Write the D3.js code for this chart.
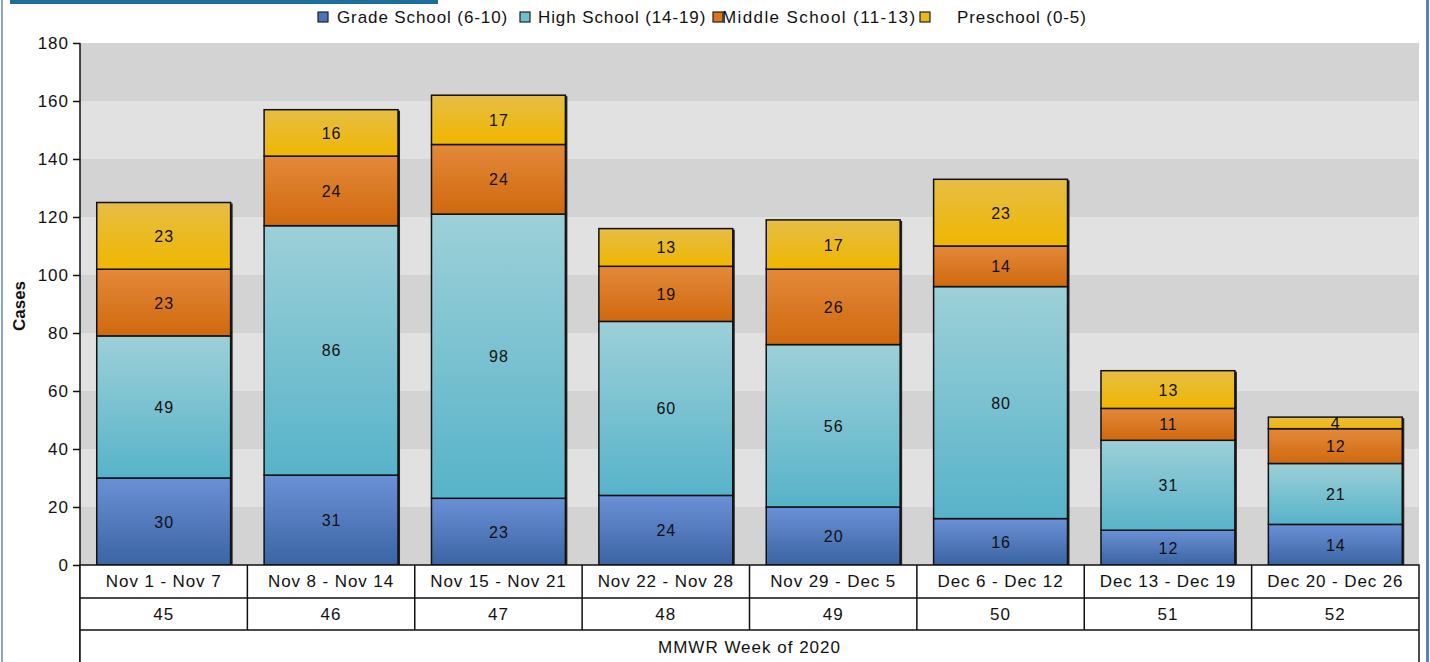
<html>
<head>
<meta charset="utf-8">
<script src="https://cdnjs.cloudflare.com/ajax/libs/d3/7.8.5/d3.min.js"></script>
<style>
  body { margin: 0; background: #fff; }
  text { font-family: "Liberation Sans", Arial, sans-serif; fill: #111; }
</style>
</head>
<body>
<div id="chartContainer"></div>
<script>
"use strict";
// week ranges, MMWR week numbers and the four age groups
var weeks = ["Nov 1  - Nov 7", "Nov 8 - Nov 14", "Nov 15 - Nov 21", "Nov 22 - Nov 28",
             "Nov 29 - Dec 5", "Dec 6 - Dec 12", "Dec 13 - Dec 19", "Dec 20 - Dec 26"];
var weekNums = ["45", "46", "47", "48", "49", "50", "51", "52"];
var groups = ["Grade School (6-10)", "High School (14-19)", "Middle School (11-13)", "Preschool (0-5)"];
var gradeSchool = [30, 31, 23, 24, 20, 16, 12, 14];
var highSchool = [49, 86, 98, 60, 56, 80, 31, 21];
var middleSchool = [23, 24, 24, 19, 26, 14, 11, 12];
var preschool = [23, 16, 17, 13, 17, 23, 13, 4];
var yTicks = [0, 20, 40, 60, 80, 100, 120, 140, 160, 180];

var seriesValues = [gradeSchool, highSchool, middleSchool, preschool];
// light top / dark bottom of each gradient, plus legend swatch
var colors = [
  ["#6a91d6", "#3b64a3", "#4a74bb"],
  ["#9dd0d8", "#57b3c9", "#6cc0d0"],
  ["#e3893a", "#d0690e", "#d8771f"],
  ["#e6bd45", "#f0b700", "#ebb820"]
];

var W = 1430, H = 662;
var svg = d3.select("#chartContainer").append("svg").attr("width", W).attr("height", H);

// window frame bits
svg.append("rect").attr("x", 10).attr("y", 0).attr("width", 428).attr("height", 4).attr("fill", "#1d6f9c");
svg.append("rect").attr("x", 1).attr("y", 0).attr("width", 2).attr("height", H).attr("fill", "#8aa6cc");
svg.append("rect").attr("x", 1426).attr("y", 0).attr("width", 3).attr("height", H).attr("fill", "#5c82b8");

var pL = 80, pR = 1419, pT = 43, pB = 565;
var x = d3.scaleBand().domain(weeks).range([pL, pR]).paddingInner(0.2).paddingOuter(0.1);
var y = d3.scaleLinear().domain([0, 180]).range([pB, pT]);
var step = x.step();

// alternating bands
for (var i = 0; i < yTicks.length - 1; i++) {
  svg.append("rect")
    .attr("x", pL).attr("width", pR - pL)
    .attr("y", y(yTicks[i + 1])).attr("height", y(yTicks[i]) - y(yTicks[i + 1]))
    .attr("fill", i % 2 === 0 ? "#d3d3d3" : "#e1e1e1");
}

// gradients
var defs = svg.append("defs");
colors.forEach(function (c, k) {
  var g = defs.append("linearGradient").attr("id", "grad" + k)
    .attr("x1", 0).attr("y1", 0).attr("x2", 0).attr("y2", 1);
  g.append("stop").attr("offset", "0%").attr("stop-color", c[0]);
  g.append("stop").attr("offset", "100%").attr("stop-color", c[1]);
});

// stack the data
var rows = weeks.map(function (w, i) {
  var r = { week: w };
  groups.forEach(function (g, k) { r[g] = seriesValues[k][i]; });
  return r;
});
var stacked = d3.stack().keys(groups)(rows);

// shadow on right side of each bar
rows.forEach(function (r) {
  var total = d3.sum(groups, function (g) { return r[g]; });
  svg.append("rect")
    .attr("x", x(r.week) + 2).attr("y", y(total) + 1)
    .attr("width", x.bandwidth()).attr("height", y(0) - y(total) - 1)
    .attr("fill", "#222");
});

stacked.forEach(function (layer, k) {
  var gl = svg.append("g");
  gl.selectAll("rect").data(layer).enter().append("rect")
    .attr("x", function (d) { return x(d.data.week); })
    .attr("y", function (d) { return y(d[1]); })
    .attr("width", x.bandwidth())
    .attr("height", function (d) { return y(d[0]) - y(d[1]); })
    .attr("fill", "url(#grad" + k + ")")
    .attr("stroke", "#111").attr("stroke-width", 1.5);
  gl.selectAll("text").data(layer).enter().append("text")
    .attr("x", function (d) { return x(d.data.week) + x.bandwidth() / 2 + 0.5; })
    .attr("y", function (d) { return (y(d[0]) + y(d[1])) / 2 + 6; })
    .attr("text-anchor", "middle").style("font-size", "16px").style("letter-spacing", "1px")
    .text(function (d) { return d[1] - d[0]; });
});

// y axis
var yAxis = d3.axisLeft(y).tickValues(yTicks).tickSize(7).tickPadding(4);
var ya = svg.append("g").attr("transform", "translate(" + pL + ",0)").call(yAxis);
ya.select(".domain").remove();
ya.selectAll("line").attr("stroke", "#111").attr("stroke-width", 1.5);
ya.selectAll("text").style("font-size", "17px").style("letter-spacing", "1px")
  .style("font-family", "Liberation Sans, Arial, sans-serif").attr("fill", "#111");
svg.append("line").attr("x1", pL).attr("x2", pL).attr("y1", pT).attr("y2", H)
  .attr("stroke", "#111").attr("stroke-width", 1.5);

svg.append("text").attr("transform", "translate(25,306) rotate(-90)")
  .attr("text-anchor", "middle").style("font-size", "17px").style("font-weight", "bold").text("Cases");

// data table under the chart
var tb = svg.append("g");
tb.append("rect").attr("x", pL).attr("y", pB).attr("width", pR - pL).attr("height", H - pB + 2)
  .attr("fill", "#fff").attr("stroke", "#111").attr("stroke-width", 1.5);
[598, 630].forEach(function (yy) {
  tb.append("line").attr("x1", pL).attr("x2", pR).attr("y1", yy).attr("y2", yy)
    .attr("stroke", "#111").attr("stroke-width", 1.5);
});
weeks.forEach(function (w, i) {
  var cx = pL + step * i;
  if (i > 0) {
    tb.append("line").attr("x1", cx).attr("x2", cx).attr("y1", pB).attr("y2", 630)
      .attr("stroke", "#111").attr("stroke-width", 1.5);
  }
  tb.append("text").attr("x", cx + step / 2).attr("y", 587).attr("text-anchor", "middle")
    .style("font-size", "17px").style("letter-spacing", "0.9px").text(w);
  tb.append("text").attr("x", cx + step / 2).attr("y", 620).attr("text-anchor", "middle")
    .style("font-size", "17px").style("letter-spacing", "1px").text(weekNums[i]);
});
tb.append("text").attr("x", (pL + pR) / 2).attr("y", 653).attr("text-anchor", "middle")
  .style("font-size", "17px").style("letter-spacing", "1px").text("MMWR Week of 2020");

// legend
var legX = [318, 520, 713, 920];
var legT = [337, 538, 722, 957];
var legSpacing = ["0.9px", "0.9px", "1.4px", "0.9px"];
groups.forEach(function (g, k) {
  svg.append("rect").attr("x", legX[k]).attr("y", 12).attr("width", 10).attr("height", 10)
    .attr("fill", colors[k][2]).attr("stroke", "#222").attr("stroke-width", 1.2);
  svg.append("text").attr("x", legT[k]).attr("y", 23).style("font-size", "17px")
    .style("letter-spacing", legSpacing[k]).text(g);
});
</script>
</body>
</html>
